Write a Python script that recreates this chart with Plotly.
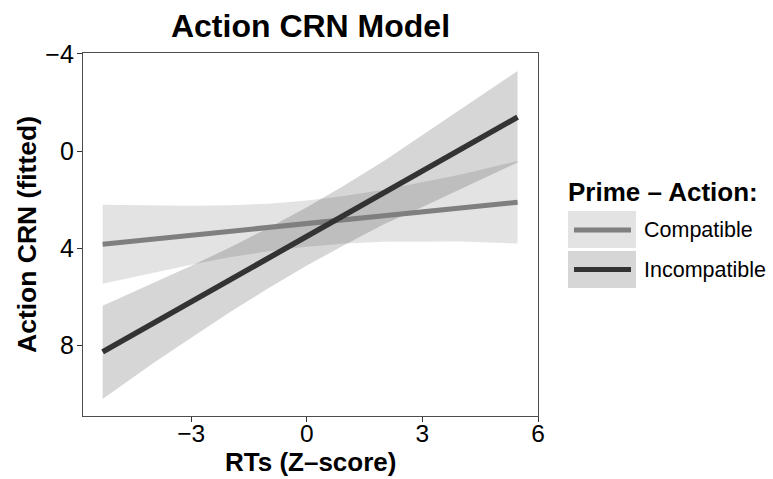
import plotly.graph_objects as go

# ---------------- data ----------------
rt_z = [-5.3, -4, -3, -2, -1, 0, 1, 2, 3, 4, 5.47]

compat_fit = [3.83, 3.62, 3.46, 3.30, 3.14, 2.98, 2.82, 2.66, 2.50, 2.34, 2.10]
compat_lo = [2.21, 2.24, 2.25, 2.23, 2.16, 2.03, 1.84, 1.59, 1.29, 0.96, 0.40]
compat_hi = [5.46, 5.00, 4.67, 4.37, 4.12, 3.93, 3.80, 3.73, 3.71, 3.72, 3.80]

incompat_fit = [8.26, 7.09, 6.20, 5.30, 4.40, 3.51, 2.61, 1.71, 0.82, -0.08, -1.40]
incompat_lo = [6.36, 5.44, 4.72, 3.97, 3.16, 2.31, 1.38, 0.41, -0.66, -1.73, -3.30]
incompat_hi = [10.20, 8.74, 7.68, 6.63, 5.64, 4.71, 3.84, 3.01, 2.30, 1.57, 0.47]

x_ticks = [-3, 0, 3, 6]
y_ticks = [-4, 0, 4, 8]
series_names = ["Compatible", "Incompatible"]
legend_title = "Prime \u2013 Action:"
x_title = "RTs (Z\u2013score)"
y_title = "Action CRN (fitted)"
chart_title = "Action CRN Model"

# ---------------- styling ----------------
W, H = 773, 479
L, R, T, B = 83, 235, 53, 63
FONT = "Liberation Sans, Arial, Helvetica, sans-serif"
C_COMP_LINE = "#7f7f7f"
C_INC_LINE = "#333333"
C_COMP_FILL = "rgba(0,0,0,0.11)"
C_INC_FILL = "rgba(0,0,0,0.16)"
C_COMP_KEY = "#e3e3e3"
C_INC_KEY = "#d6d6d6"

pw, ph = W - L - R, H - T - B


def px_x(px):
    return (px - L) / pw


def px_y(py):
    return (H - B - py) / ph


fig = go.Figure()

# confidence bands
fig.add_trace(go.Scatter(
    x=rt_z + rt_z[::-1], y=compat_hi + compat_lo[::-1],
    fill="toself", fillcolor=C_COMP_FILL, line=dict(width=0),
    mode="lines", hoverinfo="skip", showlegend=False))
fig.add_trace(go.Scatter(
    x=rt_z + rt_z[::-1], y=incompat_hi + incompat_lo[::-1],
    fill="toself", fillcolor=C_INC_FILL, line=dict(width=0),
    mode="lines", hoverinfo="skip", showlegend=False))

# fitted lines
fig.add_trace(go.Scatter(x=rt_z, y=compat_fit, mode="lines", name=series_names[0],
                         line=dict(color=C_COMP_LINE, width=5), showlegend=False))
fig.add_trace(go.Scatter(x=rt_z, y=incompat_fit, mode="lines", name=series_names[1],
                         line=dict(color=C_INC_LINE, width=5.5), showlegend=False))

# ---------------- axis titles & manual legend ----------------
shapes = []
annotations = [
    dict(text="<b>" + x_title + "</b>", xref="paper", yref="paper",
         x=0.5, y=px_y(462), xanchor="center", yanchor="middle", showarrow=False,
         borderpad=0, font=dict(family=FONT, size=26, color="black")),
    dict(text="<b>" + y_title + "</b>", xref="paper", yref="paper", textangle=-90,
         x=px_x(26.5), y=0.5, xanchor="center", yanchor="middle", showarrow=False,
         borderpad=0, font=dict(family=FONT, size=26.5, color="black")),
    dict(text="<b>" + legend_title + "</b>", xref="paper", yref="paper",
         x=px_x(566), y=px_y(192), xanchor="left", yanchor="middle",
         showarrow=False, font=dict(family=FONT, size=26, color="black")),
]
keys = [(211, 248, C_COMP_KEY, C_COMP_LINE, 230), (251, 288, C_INC_KEY, C_INC_LINE, 269.5)]
for name, (y0, y1, kfill, lcol, ly) in zip(series_names, keys):
    shapes.append(dict(type="rect", xref="paper", yref="paper",
                       x0=px_x(568), x1=px_x(636), y0=px_y(y1), y1=px_y(y0),
                       fillcolor=kfill, line=dict(width=0), layer="above"))
    shapes.append(dict(type="line", xref="paper", yref="paper",
                       x0=px_x(574), x1=px_x(631), y0=px_y(ly), y1=px_y(ly),
                       line=dict(color=lcol, width=5), layer="above"))
    annotations.append(dict(text=name, xref="paper", yref="paper",
                            x=px_x(642), y=px_y(ly), xanchor="left", yanchor="middle",
                            showarrow=False, font=dict(family=FONT, size=21.5, color="black")))

fig.update_layout(
    width=W, height=H,
    margin=dict(l=L, r=R, t=T, b=B, pad=0),
    paper_bgcolor="white", plot_bgcolor="white",
    font=dict(family=FONT, color="black"),
    title=dict(text="<b>" + chart_title + "</b>", x=0.5, xref="paper", xanchor="center",
               y=1 - 26 / H, yref="container", yanchor="middle",
               font=dict(family=FONT, size=32, color="black")),
    shapes=shapes, annotations=annotations,
    showlegend=False,
)

fig.update_xaxes(
    range=[-5.81, 6.0], tickvals=x_ticks, ticks="outside", ticklen=5, tickwidth=1,
    tickcolor="#333333", showgrid=False, zeroline=False, automargin=False,
    showline=True, linecolor="#4d4d4d", linewidth=1.3, mirror=True,
    ticklabelstandoff=-10,
    tickfont=dict(family=FONT, size=24.5, color="black"),
)
fig.update_yaxes(
    range=[10.9, -4.04], tickvals=y_ticks, ticks="outside", ticklen=5, tickwidth=1,
    tickcolor="#333333", showgrid=False, zeroline=False, automargin=False,
    showline=True, linecolor="#4d4d4d", linewidth=1.3, mirror=True,
    ticklabelstandoff=-2,
    tickfont=dict(family=FONT, size=25, color="black"),
)

fig.write_html("out.html")
